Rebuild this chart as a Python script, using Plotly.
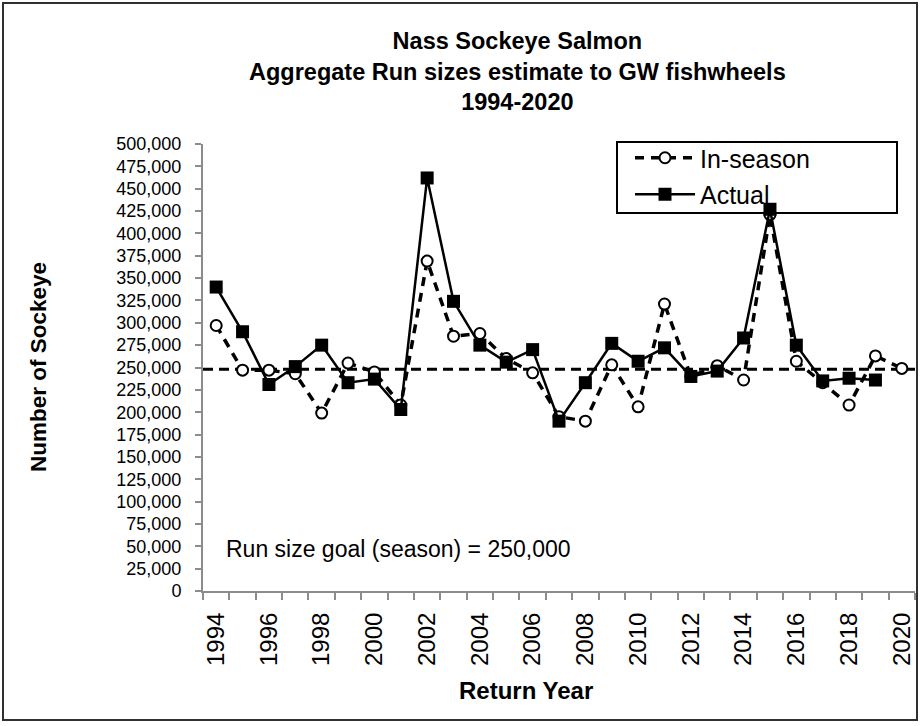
import plotly.graph_objects as go

years = list(range(1994, 2021))
actual = [340000, 290000, 231000, 251000, 275000, 233000, 237000, 203000, 462000,
          324000, 275000, 256000, 270000, 190000, 233000, 277000, 257000, 272000,
          240000, 246000, 283000, 427000, 275000, 235000, 238000, 236000, None]
in_season = [297000, 247000, 247000, 243000, 199000, 255000, 245000, 208000, 369000,
             285000, 288000, 260000, 244000, 195000, 190000, 253000, 206000, 321000,
             240000, 252000, 236000, 421000, 257000, 233000, 208000, 263000, 249000]
goal = 248000
year_labels = [str(y) for y in range(1994, 2021, 2)]
y_ticks = list(range(0, 500001, 25000))

W, H = 920, 726
# plot area in page pixels
L, R, T, B = 203, 915, 144, 591


def px(x):
    return (x - L) / (R - L)


def py(y):
    return (B - y) / (B - T)


FONT = "Liberation Sans, Arial"

fig = go.Figure()
fig.add_trace(go.Scatter(
    x=years, y=in_season, name="In-season", mode="lines+markers",
    legendgroup="a",
    line=dict(color="black", width=3.5, dash="9px,7px"),
    marker=dict(symbol="circle", size=11, color="white",
                line=dict(color="black", width=2)),
))
fig.add_trace(go.Scatter(
    x=years, y=actual, name="Actual", mode="lines+markers",
    legendgroup="b",
    line=dict(color="black", width=2.5),
    marker=dict(symbol="square", size=13, color="black"),
))

# goal line
fig.add_shape(type="line", xref="paper", yref="y", x0=0, x1=1, y0=goal, y1=goal,
              line=dict(color="black", width=3, dash="10px,6px"), layer="below")
# legend box
fig.add_shape(type="rect", xref="paper", yref="paper",
              x0=px(617), x1=px(897), y0=py(213), y1=py(142),
              line=dict(color="black", width=2), fillcolor="white", layer="below")
# outer frame
fig.add_shape(type="rect", xref="paper", yref="paper",
              x0=px(3), x1=px(917), y0=py(720), y1=py(3),
              line=dict(color="#303030", width=2), layer="below")

fig.add_annotation(text="<b>Nass Sockeye Salmon<br>Aggregate Run sizes estimate to GW fishwheels<br>1994-2020</b>",
                   xref="paper", yref="paper", x=px(517), y=py(26),
                   xanchor="center", yanchor="top", showarrow=False,
                   font=dict(family=FONT, size=23.5, color="black"))
fig.add_annotation(text="<b>Number of Sockeye</b>", xref="paper", yref="paper",
                   x=px(38), y=py(367), textangle=-90, showarrow=False,
                   xanchor="center", yanchor="middle",
                   font=dict(family=FONT, size=22.5, color="black"))
fig.add_annotation(text="<b>Return Year</b>", xref="paper", yref="paper",
                   x=px(526), y=py(690), showarrow=False,
                   xanchor="center", yanchor="middle",
                   font=dict(family=FONT, size=24, color="black"))
fig.add_annotation(text="Run size goal (season) = 250,000", xref="paper", yref="paper",
                   x=px(224), y=py(549), showarrow=False,
                   xanchor="left", yanchor="middle",
                   font=dict(family=FONT, size=23, color="black"))

fig.update_layout(
    width=W, height=H,
    margin=dict(l=L, r=W - R, t=T, b=H - B),
    paper_bgcolor="white", plot_bgcolor="white",
    showlegend=True,
    legend=dict(x=px(630), y=py(135), xanchor="left", yanchor="top",
                bgcolor="rgba(0,0,0,0)", borderwidth=0,
                font=dict(family=FONT, size=25, color="black"),
                itemwidth=60, tracegroupgap=1, traceorder="grouped"),
)
fig.update_xaxes(
    range=[1993.5, 2020.5], tickmode="array",
    tickvals=list(range(1994, 2021, 2)), ticktext=year_labels,
    tickangle=-90, ticks="", showgrid=False, zeroline=False,
    showline=True, linecolor="#8c8c8c", linewidth=2,
    ticklabelstandoff=10,
    tickfont=dict(family=FONT, size=24, color="black"),
    minor=dict(tickvals=[y - 0.5 for y in years] + [2020.5], ticks="outside",
               ticklen=7, tickcolor="#8c8c8c", tickwidth=2, showgrid=False),
)
fig.update_yaxes(
    range=[0, 500000], tickmode="array", tickvals=y_ticks,
    ticktext=[f"{v:,}" for v in y_ticks],
    ticks="outside", ticklen=6, tickcolor="#8c8c8c", tickwidth=2,
    showgrid=False, zeroline=False,
    showline=True, linecolor="#8c8c8c", linewidth=2,
    ticklabelstandoff=10,
    tickfont=dict(family=FONT, size=18, color="black"),
)

fig.write_html("out.html", config={"displayModeBar": False},
               post_script="document.body.style.margin='0';")
